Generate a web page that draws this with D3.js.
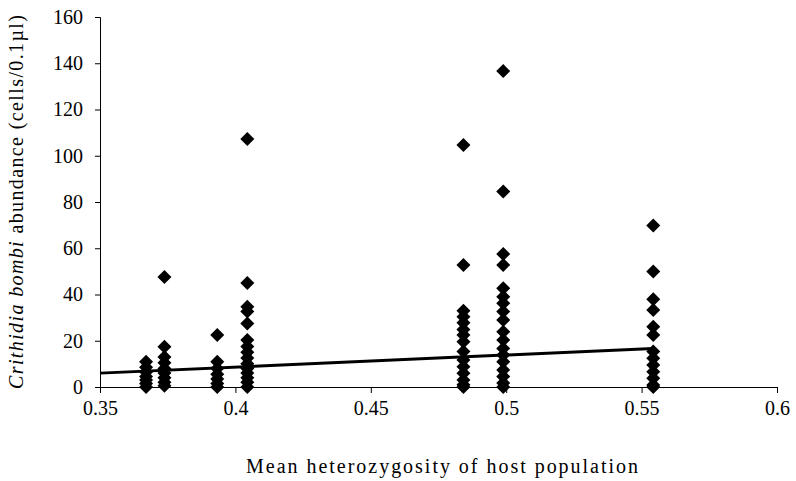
<!DOCTYPE html>
<html><head><meta charset="utf-8">
<script src="https://cdn.jsdelivr.net/npm/d3@7"></script>
<style>body{margin:0;background:#fff}svg{display:block}</style>
</head><body><svg id="c" width="796" height="481"></svg>
<script>
const xColumns = [0.367, 0.3738, 0.3933, 0.4044, 0.4842, 0.4989, 0.5543];
const col1 = [10.9, 8.5, 6.5, 4.5, 3, 1.5, 0];
const col2 = [47.6, 17.4, 13, 10.5, 8, 6, 4, 2, 0.5];
const col3 = [22.5, 10.9, 8, 5.5, 3.5, 1.5, 0];
const col4 = [107.2, 45, 34.7, 32.6, 27.5, 20.3, 17.5, 15, 12.5, 10, 8, 6, 4, 2, 0];
const col5 = [104.6, 52.8, 33, 30.4, 27.8, 24.9, 22.5, 19.6, 15.3, 11.7, 8.8, 5.9, 3, 1, 0];
const col6 = [136.6, 84.5, 57.5, 52.8, 42.7, 39, 36.2, 32.6, 29, 23.9, 20.3, 16.7, 13.8, 10.9, 7.4, 4.5, 1.7, 0];
const col7 = [69.8, 49.9, 37.9, 33.3, 26.1, 22.5, 15.3, 12.4, 9.5, 6.6, 3.8, 0.9, 0];
const trendX = [0.35, 0.5543];
const trendY = [6.0, 16.7];
const xTicks = [0.35, 0.4, 0.45, 0.5, 0.55, 0.6];
const yTicks = [0, 20, 40, 60, 80, 100, 120, 140, 160];
const xTitle = "Mean heterozygosity of host population";

const columns = [col1, col2, col3, col4, col5, col6, col7];
const points = [];
columns.forEach((c, i) => c.forEach(v => points.push({x: xColumns[i], y: v})));

const svg = d3.select("#c");
const x = d3.scaleLinear().domain([0.35, 0.6]).range([100, 777]);
const y = d3.scaleLinear().domain([0, 160]).range([387, 17]);
const font = "Liberation Serif";

const xa = svg.append("g").attr("transform", "translate(0,387)")
  .call(d3.axisBottom(x).tickValues(xTicks).tickSize(6).tickPadding(5).tickFormat(d => String(+d.toFixed(2))));
const ya = svg.append("g").attr("transform", "translate(100,0)")
  .call(d3.axisLeft(y).tickValues(yTicks).tickSize(5).tickPadding(12));
[xa, ya].forEach(a => {
  a.attr("font-family", font);
  a.select(".domain").attr("stroke", "#000").attr("stroke-width", 1);
  a.selectAll(".tick line").attr("stroke", "#000");
  a.selectAll("text").style("font-family", font).attr("font-size", 20).attr("fill", "#000");
});
xa.selectAll("text").attr("dy", "0.85em");

// points
const diamond = d3.symbol(d3.symbolSquare, 98);
svg.append("g").selectAll("path").data(points).join("path")
  .attr("d", diamond)
  .attr("transform", d => `translate(${x(d.x)},${y(d.y)}) rotate(45)`)
  .attr("fill", "#000");

// trend line
svg.append("path")
  .datum(trendX.map((v, i) => [v, trendY[i]]))
  .attr("d", d3.line().x(d => x(d[0])).y(d => y(d[1])))
  .attr("stroke", "#000").attr("stroke-width", 3).attr("fill", "none");

// x title
svg.append("text").attr("x", 442).attr("y", 473).attr("text-anchor", "middle")
  .style("font-family", font).attr("font-size", 20).attr("fill", "#000")
  .attr("textLength", 392).attr("lengthAdjust", "spacing")
  .text(xTitle);

// y title
const yt = svg.append("text").attr("transform", "translate(23,202) rotate(-90)")
  .attr("text-anchor", "middle").style("font-family", font).attr("font-size", 20).attr("fill", "#000")
  .attr("textLength", 374).attr("lengthAdjust", "spacing");
yt.append("tspan").attr("font-style", "italic").text("Crithidia bombi");
yt.append("tspan").text("  abundance (cells/0.1µl)");
</script></body></html>
